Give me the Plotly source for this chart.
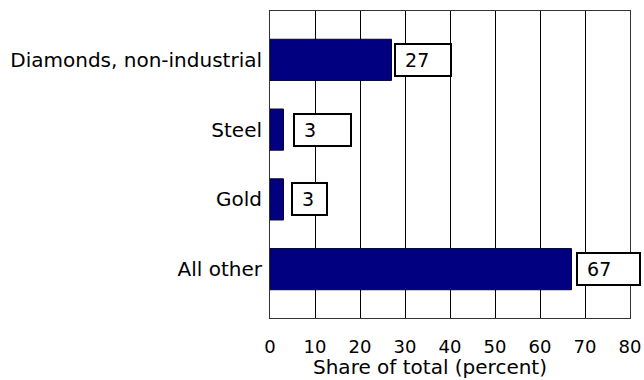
import plotly.graph_objects as go

categories = ["Diamonds, non-industrial", "Steel", "Gold", "All other"]
values = [27, 3, 3, 67]
label_texts = ["27", "3", "3", "67"]
x_ticks = [0, 10, 20, 30, 40, 50, 60, 70, 80]
x_title = "Share of total (percent)"

# label box styling (pixels)
box_widths = [58, 59, 37, 65]
box_gaps = [2, 9, 7, 4]

FONT = "DejaVu Sans"

fig = go.Figure()
fig.add_trace(go.Bar(
    y=categories, x=values, orientation="h",
    marker=dict(color="#000080", line=dict(color="#000033", width=1)),
    width=0.59,
))

for cat, v, t, w, g in zip(categories, values, label_texts, box_widths, box_gaps):
    fig.add_annotation(
        x=v, y=cat, xref="x", yref="y",
        text="\u00a0" + t, showarrow=False,
        xanchor="left", yanchor="middle", xshift=g,
        width=w - 10, height=24, align="left",
        bordercolor="black", borderwidth=2, borderpad=3, bgcolor="white",
        font=dict(family=FONT, size=19, color="black"),
    )

# axis title placed as annotation (slightly left of plot centre, as in the reference)
fig.add_annotation(
    x=0.444, y=-0.16, xref="paper", yref="paper",
    text=x_title, showarrow=False, xanchor="center", yanchor="middle",
    font=dict(family=FONT, size=20, color="black"),
)

fig.update_layout(
    width=644, height=380,
    margin=dict(l=270, r=14, t=11, b=62),
    paper_bgcolor="white", plot_bgcolor="white",
    font=dict(family=FONT, size=18, color="black"),
    showlegend=False,
    xaxis=dict(
        range=[0, 80], tickvals=x_ticks, ticks="",
        showgrid=True, gridcolor="black", gridwidth=1,
        showline=True, linecolor="#333", linewidth=1, mirror=True,
        zeroline=False, automargin=False,
        tickfont=dict(size=18), ticklabelstandoff=12,
    ),
    yaxis=dict(
        categoryorder="array", categoryarray=categories, autorange=False,
        range=[3.7, -0.7], ticks="", showgrid=False,
        showline=True, linecolor="#333", linewidth=1, mirror=True,
        automargin=False,
        tickfont=dict(size=20), ticklabelstandoff=3,
    ),
)

fig.write_html("out.html", config={"displayModeBar": False},
               post_script="document.body.style.margin='0';")
